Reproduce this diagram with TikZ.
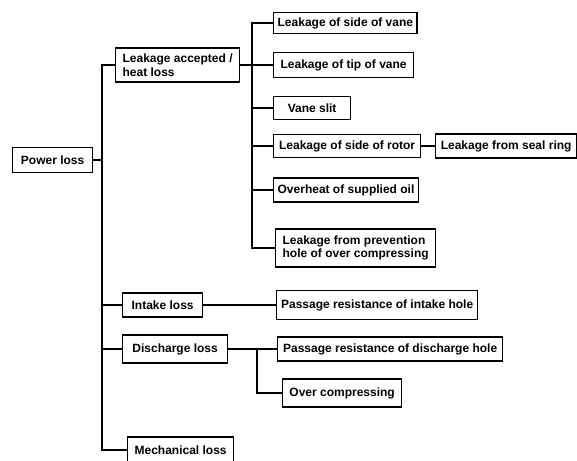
\documentclass[tikz,border=0pt]{standalone}
\usepackage{fontspec}
\setmainfont{Liberation Sans}
\usepackage{tikz}
\usetikzlibrary{positioning}

\tikzset{
  lossbox/.style={draw, line width=1.3pt, anchor=west, inner xsep=4pt, inner ysep=2pt,
    font=\bfseries\fontsize{12}{13.5}\selectfont, align=left},
  branch/.style={line width=1.6pt}
}

\begin{document}
\begin{tikzpicture}[x=1pt, y=-1pt]
\useasboundingbox (0,0) rectangle (577,460);

% root (left)
\node[lossbox, minimum width=80pt, minimum height=25pt] (power) at (12,160) {Power loss};

% first level
\node[lossbox, minimum width=124pt, minimum height=34pt] (accepted) at (115,65) {Leakage accepted /\\heat loss};
\node[lossbox, minimum width=80pt, minimum height=24pt] (intake) at (122,305) {Intake loss};
\node[lossbox, minimum width=105pt, minimum height=28pt] (discharge) at (122,349) {Discharge loss};
\node[lossbox, minimum width=106pt, minimum height=26pt] (mech) at (127,450) {Mechanical loss};

% leakage causes
\node[lossbox, minimum width=142pt, minimum height=21pt] (sidevane) at (273,23) {Leakage of side of vane};
\node[lossbox, minimum width=140pt, minimum height=25pt] (tipvane) at (273,65) {Leakage of tip of vane};
\node[lossbox, minimum width=77pt, minimum height=23pt] (slit) at (273,108) {Vane slit};
\node[lossbox, minimum width=147pt, minimum height=23pt] (rotor) at (273,146) {Leakage of side of rotor};
\node[lossbox, minimum width=141pt, minimum height=24pt] (seal) at (435,146) {Leakage from seal ring};
\node[lossbox, minimum width=124pt, minimum height=24pt] (oil) at (273,190) {Overheat of supplied oil};
\node[lossbox, minimum width=160pt, minimum height=38pt] (prevent) at (275,248) {Leakage from prevention\\hole of over compressing};

% intake / discharge causes
\node[lossbox, minimum width=201pt, minimum height=29pt] (intakehole) at (276,305) {Passage resistance of intake hole};
\node[lossbox, minimum width=225pt, minimum height=24pt] (dischole) at (277,349) {Passage resistance of discharge hole};
\node[lossbox, minimum width=119pt, minimum height=28pt] (overcomp) at (282,393) {Over compressing};

% buses
\coordinate (bus1) at (102,0);
\coordinate (bus2) at (252,0);
\coordinate (bus3) at (257,0);

% main tree
\draw[branch] (power.east) -- (power.east -| bus1);
\draw[branch] (accepted.west) -- (accepted.west -| bus1) -- (mech.west -| bus1) -- (mech.west);
\draw[branch] (intake.west) -- (intake.west -| bus1);
\draw[branch] (discharge.west) -- (discharge.west -| bus1);

% leakage tree
\draw[branch] (accepted.east) -- (tipvane.west);
\draw[branch] (sidevane.west) -- (sidevane.west -| bus2) -- (prevent.west -| bus2) -- (prevent.west);
\draw[branch] (slit.west) -- (slit.west -| bus2);
\draw[branch] (rotor.west) -- (rotor.west -| bus2);
\draw[branch] (oil.west) -- (oil.west -| bus2);
\draw[branch] (rotor.east) -- (seal.west);

% intake and discharge
\draw[branch] (intake.east) -- (intakehole.west);
\draw[branch] (discharge.east) -- (dischole.west);
\draw[branch] (dischole.west -| bus3) |- (overcomp.west);
\end{tikzpicture}
\end{document}
